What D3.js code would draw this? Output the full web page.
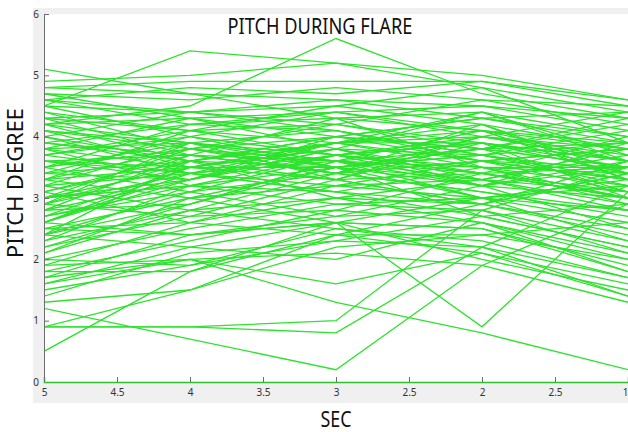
<!DOCTYPE html>
<html>
<head>
<meta charset="utf-8">
<script src="https://cdn.jsdelivr.net/npm/d3@7"></script>
<style>
  body { margin: 0; background: #fff; }
  text { font-family: "Noto Sans", "Open Sans", sans-serif; }
</style>
</head>
<body>
<div id="chart"></div>
<script>
// sample times (sec) for every trace
let secs = [5, 4, 3, 2, 1];
// x tick positions and the labels as printed on the figure
let xTicks = [5, 4.5, 4, 3.5, 3, 2.5, 2, 1.5, 1];
let xTickLabels = ["5", "4.5", "4", "3.5", "3", "2.5", "2", "2.5", "1"];
let yTicks = [0, 1, 2, 3, 4, 5, 6];

// pitch (degree) per trace, values at 5,4,3,2,1 sec
let pitch = [
  [5.1, 4.7, 4.6, 4.3, 4.0],
  [4.5, 5.4, 5.2, 4.8, 4.4],
  [4.2, 4.5, 5.6, 4.7, 4.3],
  [4.9, 5.0, 5.2, 5.0, 4.6],
  [4.8, 4.9, 4.9, 4.9, 4.6],
  [4.6, 4.8, 4.7, 4.9, 4.5],
  [4.7, 4.6, 4.8, 4.6, 4.2],
  [4.5, 4.4, 4.6, 4.5, 4.3],
  [4.3, 4.4, 4.5, 4.8, 3.9],
  [4.6, 4.2, 4.3, 4.4, 4.0],
  [0.5, 1.8, 2.6, 3.0, 3.3],
  [0.9, 0.9, 1.0, 2.8, 3.5],
  [0.9, 0.9, 0.8, 2.2, 3.2],
  [1.2, 0.7, 0.2, 1.9, 2.9],
  [2.6, 2.4, 2.6, 0.9, 3.1],
  [1.9, 2.0, 1.3, 0.8, 0.2],
  [0.9, 1.5, 2.4, 2.9, 3.4],
  [1.6, 2.0, 1.6, 2.1, 1.4],
  [4.3, 4.1, 3.9, 4.0, 3.6],
  [4.4, 3.8, 4.2, 3.9, 3.5],
  [4.2, 4.3, 3.8, 4.4, 3.7],
  [4.0, 3.6, 4.0, 3.8, 3.9],
  [4.1, 3.9, 3.6, 4.1, 3.3],
  [3.9, 4.2, 4.1, 3.6, 3.8],
  [3.8, 3.5, 3.9, 4.2, 3.4],
  [3.7, 4.0, 3.5, 3.7, 4.1],
  [3.6, 3.7, 4.3, 3.5, 3.2],
  [3.5, 3.9, 3.7, 3.9, 3.6],
  [3.6, 3.3, 3.8, 3.4, 3.0],
  [3.4, 3.6, 4.0, 3.8, 3.5],
  [3.3, 3.8, 3.4, 4.0, 3.7],
  [3.2, 3.4, 3.9, 3.6, 3.1],
  [3.1, 3.7, 3.6, 3.3, 3.8],
  [3.0, 3.5, 3.3, 3.9, 3.4],
  [3.0, 3.2, 3.7, 3.5, 2.9],
  [2.9, 3.6, 3.5, 3.2, 3.6],
  [2.8, 3.3, 3.8, 3.7, 3.2],
  [2.7, 3.1, 3.4, 3.1, 2.7],
  [2.6, 3.4, 3.6, 3.4, 3.0],
  [2.5, 3.0, 3.2, 3.6, 3.3],
  [2.4, 2.9, 3.5, 3.0, 2.6],
  [2.3, 3.2, 3.1, 3.5, 3.5],
  [2.2, 2.7, 3.3, 2.9, 2.4],
  [2.1, 2.8, 3.0, 3.3, 3.1],
  [2.0, 2.5, 2.9, 2.8, 2.3],
  [1.9, 2.6, 3.2, 3.0, 2.8],
  [1.8, 2.3, 2.8, 2.6, 2.1],
  [1.7, 2.4, 2.7, 3.2, 2.5],
  [1.6, 2.2, 2.6, 2.5, 1.9],
  [1.5, 1.9, 2.5, 2.3, 1.7],
  [1.4, 2.1, 2.3, 2.7, 2.2],
  [1.3, 1.5, 2.2, 2.4, 2.0],
  [1.8, 1.8, 2.4, 2.1, 1.6],
  [2.0, 1.9, 2.3, 2.2, 1.4],
  [1.7, 2.0, 2.1, 1.9, 1.3],
  [2.5, 2.4, 2.6, 2.0, 1.5],
  [2.4, 2.2, 2.0, 2.6, 1.8],
  [4.6, 4.4, 4.1, 3.7, 3.4],
  [4.5, 4.0, 3.7, 3.4, 3.0],
  [4.3, 3.7, 3.4, 3.1, 2.8],
  [4.2, 3.9, 3.3, 2.9, 2.5],
  [4.0, 3.4, 3.1, 2.7, 2.2],
  [3.9, 3.6, 3.0, 2.6, 2.0],
  [3.8, 3.2, 2.9, 3.0, 2.3],
  [3.5, 3.1, 2.7, 2.8, 2.1],
  [3.3, 3.0, 2.6, 2.5, 1.8],
  [3.2, 2.8, 2.5, 2.2, 1.7],
  [3.1, 2.6, 2.4, 2.4, 2.6],
  [2.9, 2.7, 2.8, 3.4, 4.0],
  [2.8, 2.9, 3.6, 3.8, 4.2],
  [2.7, 3.5, 3.9, 4.1, 3.9],
  [2.6, 3.3, 4.0, 4.3, 4.4],
  [2.4, 3.1, 3.7, 4.0, 3.6],
  [2.3, 2.8, 3.4, 4.2, 3.3],
  [3.4, 4.0, 4.4, 4.5, 4.1],
  [3.5, 4.2, 4.4, 4.1, 3.8],
  [3.7, 4.1, 4.2, 4.6, 4.5],
  [3.8, 4.3, 4.0, 4.3, 3.9],
  [4.0, 4.4, 4.2, 3.8, 4.3],
  [4.1, 3.5, 3.8, 3.2, 3.5],
  [3.6, 3.4, 3.2, 3.3, 3.7],
  [3.3, 3.5, 3.5, 3.7, 3.9],
  [3.2, 3.9, 3.6, 3.0, 3.2],
  [2.9, 3.4, 3.1, 2.9, 3.4],
  [2.2, 2.9, 3.6, 3.2, 3.0],
  [2.1, 3.0, 3.5, 2.7, 2.9],
  [2.5, 2.6, 3.0, 2.9, 3.6],
  [3.0, 3.3, 3.9, 4.4, 3.6],
  [3.9, 3.7, 3.4, 3.6, 3.3],
  [4.4, 4.1, 4.5, 4.2, 3.8],
  [4.7, 4.3, 4.4, 4.0, 4.4],
  [4.8, 4.7, 4.3, 4.1, 3.6],
  [3.5, 3.8, 3.6, 3.5, 3.4],
  [3.1, 3.6, 3.9, 3.9, 3.0],
  [2.8, 3.7, 3.4, 3.6, 3.8],
  [3.7, 3.4, 3.7, 3.4, 3.5],
  [4.1, 3.8, 3.5, 3.8, 3.1],
  [2.6, 3.5, 3.8, 3.3, 2.8],
  [3.3, 4.1, 3.7, 3.9, 3.6],
  [2.9, 3.9, 4.1, 3.7, 3.3],
  [3.6, 3.5, 3.3, 4.0, 3.8],
  [4.2, 3.6, 3.9, 3.5, 3.0],
  [2.7, 3.2, 3.5, 3.8, 3.5],
  [3.4, 3.3, 3.7, 3.2, 3.9],
  [2.4, 3.6, 3.3, 3.4, 3.1],
  [3.8, 3.9, 3.5, 3.3, 2.9],
  [3.0, 3.8, 4.0, 3.6, 3.5]
];

let w = 628, h = 432;
let padLeft = 44, padRight = 628, padTop = 14, padBottom = 382;

let svg = d3.select("#chart")
  .append("svg")
    .attr("width", w)
    .attr("height", h);

// matlab style grey figure band + white axes
svg.append("rect")
  .attr("x", 33).attr("y", 8)
  .attr("width", w - 33).attr("height", 403 - 8)
  .attr("fill", "#f0f0f0");
svg.append("rect")
  .attr("x", padLeft).attr("y", padTop)
  .attr("width", padRight - padLeft).attr("height", padBottom - padTop)
  .attr("fill", "#fff");

let x = d3.scaleLinear().domain([5, 1]).range([padLeft, padRight]);
let y = d3.scaleLinear().domain([0, 6]).range([padBottom, padTop]);

svg.append("clipPath").attr("id", "plot")
  .append("rect")
  .attr("x", padLeft).attr("y", padTop)
  .attr("width", padRight - padLeft).attr("height", padBottom - padTop);

let line = d3.line()
  .x((d, i) => x(secs[i]))
  .y(d => y(d));

svg.append("g")
  .attr("clip-path", "url(#plot)")
  .selectAll("path")
  .data(pitch)
  .enter()
  .append("path")
    .attr("d", line)
    .attr("fill", "none")
    .attr("stroke", "#2ee22e")
    .attr("stroke-width", 1.3);

// y axis, ticks pointing in
let yAxis = svg.append("g")
  .attr("transform", `translate(${padLeft},0)`)
  .call(d3.axisRight(y).tickValues(yTicks).tickSize(5).tickFormat(d3.format("d")));
yAxis.select(".domain").attr("stroke", "#6e6e6e");
yAxis.selectAll(".tick line").attr("stroke", "#6e6e6e");
yAxis.selectAll(".tick text")
  .attr("x", -5)
  .attr("text-anchor", "end")
  .attr("fill", "#333")
  .attr("font-size", 10);

// x axis, ticks pointing up
let xAxis = svg.append("g")
  .attr("transform", `translate(0,${padBottom})`)
  .call(d3.axisTop(x).tickValues(xTicks).tickSize(5)
    .tickFormat((d, i) => xTickLabels[i]));
xAxis.select(".domain").attr("stroke", "#2fc02f").attr("stroke-width", 1.5);
xAxis.selectAll(".tick line").attr("stroke", "#6e6e6e");
xAxis.selectAll(".tick text")
  .attr("y", 14)
  .attr("dy", "0")
  .attr("fill", "#333")
  .attr("font-size", 10);
// last label sits on the right edge
xAxis.selectAll(".tick text").filter((d, i) => i === xTicks.length - 1)
  .attr("text-anchor", "end");
svg.selectAll(".tick text").attr("font-family", "\"Noto Sans\", sans-serif");

// titles
svg.append("text")
  .text("PITCH DURING FLARE")
  .attr("x", 320).attr("y", 34)
  .attr("text-anchor", "middle")
  .attr("font-size", 21)
  .attr("textLength", 185)
  .attr("lengthAdjust", "spacingAndGlyphs")
  .attr("fill", "#111");
svg.append("text")
  .text("SEC")
  .attr("x", 336).attr("y", 427)
  .attr("text-anchor", "middle")
  .attr("font-size", 21)
  .attr("textLength", 31)
  .attr("lengthAdjust", "spacingAndGlyphs")
  .attr("fill", "#111");
svg.append("text")
  .text("PITCH DEGREE")
  .attr("transform", "translate(23,183) rotate(-90)")
  .attr("text-anchor", "middle")
  .attr("font-size", 21)
  .attr("textLength", 150)
  .attr("lengthAdjust", "spacingAndGlyphs")
  .attr("fill", "#111");
</script>
</body>
</html>
